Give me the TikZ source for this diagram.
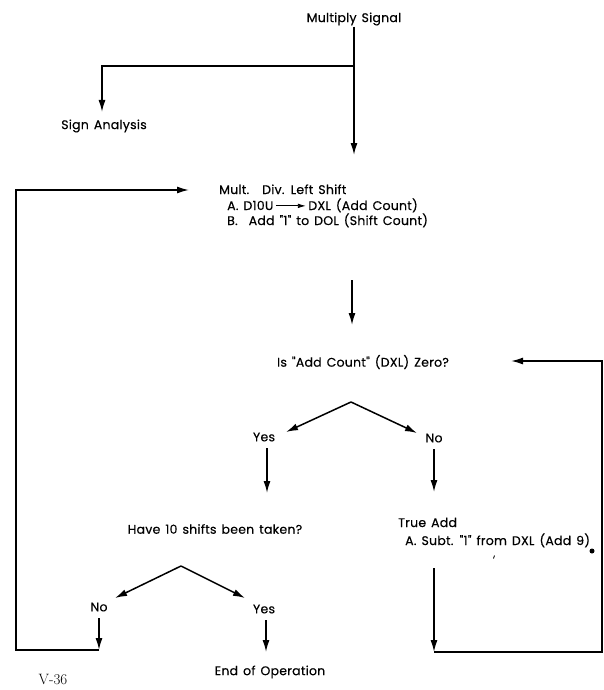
\documentclass[tikz,border=0pt]{standalone}
\usepackage{fontspec}
\newfontfamily\flowfont{Poppins}[WordSpace=1.4,LetterSpace=2,FakeBold=0.4]
\usetikzlibrary{arrows.meta,positioning}
\tikzset{
  flow/.style={line width=1.5pt,-{Latex[length=12pt,width=7pt]}},
  wire/.style={line width=1.5pt},
  lbl/.style={font=\flowfont\fontsize{12.5}{14}\selectfont,inner sep=1pt},
}
\begin{document}
\begin{tikzpicture}[x=1pt,y=-1pt]
\useasboundingbox (0,0) rectangle (604,690);
% texts
\node[lbl] (signal) at (354,19) {Multiply Signal};
\node[lbl] (sign) at (104,126) {Sign Analysis};
\node[lbl,anchor=base west] (shift) at (218,194) {Mult.\hspace{13pt}Div. Left Shift};
\node[lbl,anchor=base west] (shiftA) at (226,210) {A. D10U\,\tikz[baseline=-0.6ex]\draw[line width=0.8pt,-{Latex[length=8pt,width=4.5pt]}] (0,0) -- (30pt,0);\,DXL (Add Count)};
\node[lbl,anchor=base west] (shiftB) at (226,225) {B.\hspace{11pt}Add "1" to DOL (Shift Count)};
\node[lbl] (zero) at (363,362) {Is "Add Count" (DXL) Zero?};
\node[lbl] (yes1) at (264,437) {Yes};
\node[lbl] (no1) at (434,438) {No};
\node[lbl] (shifts) at (215,529) {Have 10 shifts been taken?};
\node[lbl,anchor=base west] (trueadd) at (397,527) {True Add};
\node[lbl,anchor=base west] (subt) at (404,545) {A. Subt. "1" from DXL (Add 9)};
\node[lbl] (no2) at (99,607) {No};
\node[lbl] (yes2) at (264,609) {Yes};
\node[lbl] (endop) at (270,672) {End of Operation};
\node[font=\fontsize{15}{17}\selectfont] (page) at (53,679) {V-36};
% junctions and arrow ends
\coordinate (fork) at (354,66);
\coordinate (signal-end) at (354,155);
\coordinate (sign-in) at (102,112);
\coordinate (shift-in) at (189,190);
\coordinate (shift-out) at (352,280);
\coordinate (zero-top) at (352,325);
\coordinate (zero-in) at (511,361);
\coordinate (apex1) at (351,402);
\coordinate (yes1-in) at (286,432);
\coordinate (no1-in) at (417,433);
\coordinate (yes1-out) at (267,448);
\coordinate (shifts-top) at (267,493);
\coordinate (no1-out) at (434,449);
\coordinate (add-top) at (434,492);
\coordinate (apex2) at (181,566);
\coordinate (no2-in) at (115,598);
\coordinate (yes2-in) at (245,598);
\coordinate (no2-out) at (99,618);
\coordinate (no2-end) at (99,650);
\coordinate (left-rail) at (16,650);
\coordinate (yes2-out) at (266,620);
\coordinate (end-top) at (266,652);
\coordinate (add-out) at (434,568);
\coordinate (add-end) at (434,652);
\coordinate (right-rail) at (602,652);
% connectors
\draw[flow] (signal) -- (signal-end);
\draw[flow] (fork) -| (sign-in);
\draw[flow] (shift-out) -- (zero-top);
\draw[flow] (apex1) -- (yes1-in);
\draw[flow] (apex1) -- (no1-in);
\draw[flow] (yes1-out) -- (shifts-top);
\draw[flow] (no1-out) -- (add-top);
\draw[flow] (apex2) -- (no2-in);
\draw[flow] (apex2) -- (yes2-in);
\draw[flow] (no2-out) -- (no2-end);
\draw[flow] (no2-end) -- (left-rail) |- (shift-in);
\draw[flow] (yes2-out) -- (end-top);
\draw[flow] (add-out) -- (add-end);
\draw[flow] (add-end) -- (right-rail) |- (zero-in);
% marks on the sheet
\fill (592,551) circle (2.5);
\draw[line width=0.9pt] (494.5,555.5) -- (493.5,558.5);
\end{tikzpicture}
\end{document}
